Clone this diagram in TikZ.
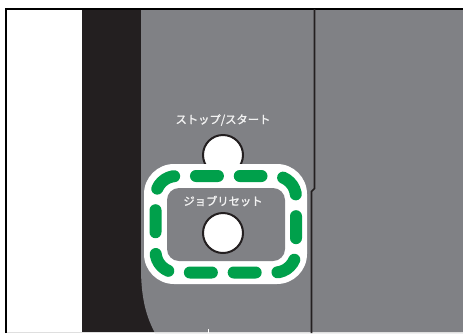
\documentclass[tikz,border=0pt]{standalone}
\usepackage{fontspec}
\newfontfamily\jpfont[FakeBold=1.6]{Noto Sans CJK JP}
\definecolor{panelgray}{RGB}{128,129,133}
\definecolor{darkband}{RGB}{35,31,32}
\definecolor{ringgreen}{RGB}{0,160,75}
\definecolor{labelwhite}{RGB}{242,242,242}
\tikzset{
  btn/.style={circle, draw=darkband, line width=2pt, fill=white, minimum size=40pt, inner sep=0pt},
  lbl/.style={text=labelwhite, font=\jpfont\fontsize{11.3}{12}\selectfont, inner sep=0pt},
  greendash/.style={draw=ringgreen, line width=12pt, line cap=round,
    dash pattern=on 22pt off 21.8pt, dash phase=11pt},
}
\begin{document}
\begin{tikzpicture}[x=1pt,y=-1pt]
\useasboundingbox (0,0) rectangle (463,333);
\fill[white] (0,0) rectangle (463,333);
% dark band
\fill[darkband] (82,9) rectangle (463,333);
% gray panel with curved lower-left edge
\fill[panelgray] (141,9) -- (463,9) -- (463,333) -- (155,333)
  .. controls (147,318) and (141,300) .. (141,268) -- cycle;
% thin light line at bottom
\draw[gray!25, line width=0.8pt] (6,332.4) -- (463,332.4);
% outer border
\draw[black, line width=2pt] (6,333) -- (6,9) -- (463,9);
% panel seam
\draw[darkband, line width=1.6pt] (314.5,9) -- (314.5,188.5) -- (311.5,191.5) -- (311.5,333);
% top button (partly covered)
\node[btn] (stopbtn) at (223,155) {};
% white surround and inner field
\fill[white, rounded corners=30pt] (144,164) rectangle (307,284);
\fill[panelgray, rounded corners=12pt] (167,188) rectangle (285,261);
% green dashed ring
\draw[greendash, rounded corners=21pt] (229.5,176) -- (296,176) -- (296,272.5) -- (155.5,272.5) -- (155.5,176) -- cycle;
% reset button
\node[btn] (resetbtn) at (223,233) {};
% labels
\node[lbl] (stoplbl) at (223,120) {ストップ/スタート};
\node[lbl] (resetlbl) at (223,201) {ジョブリセット};
% small tick at the bottom edge
\draw[white, line width=0.8pt] (208,329) -- (208,333);
\end{tikzpicture}
\end{document}
